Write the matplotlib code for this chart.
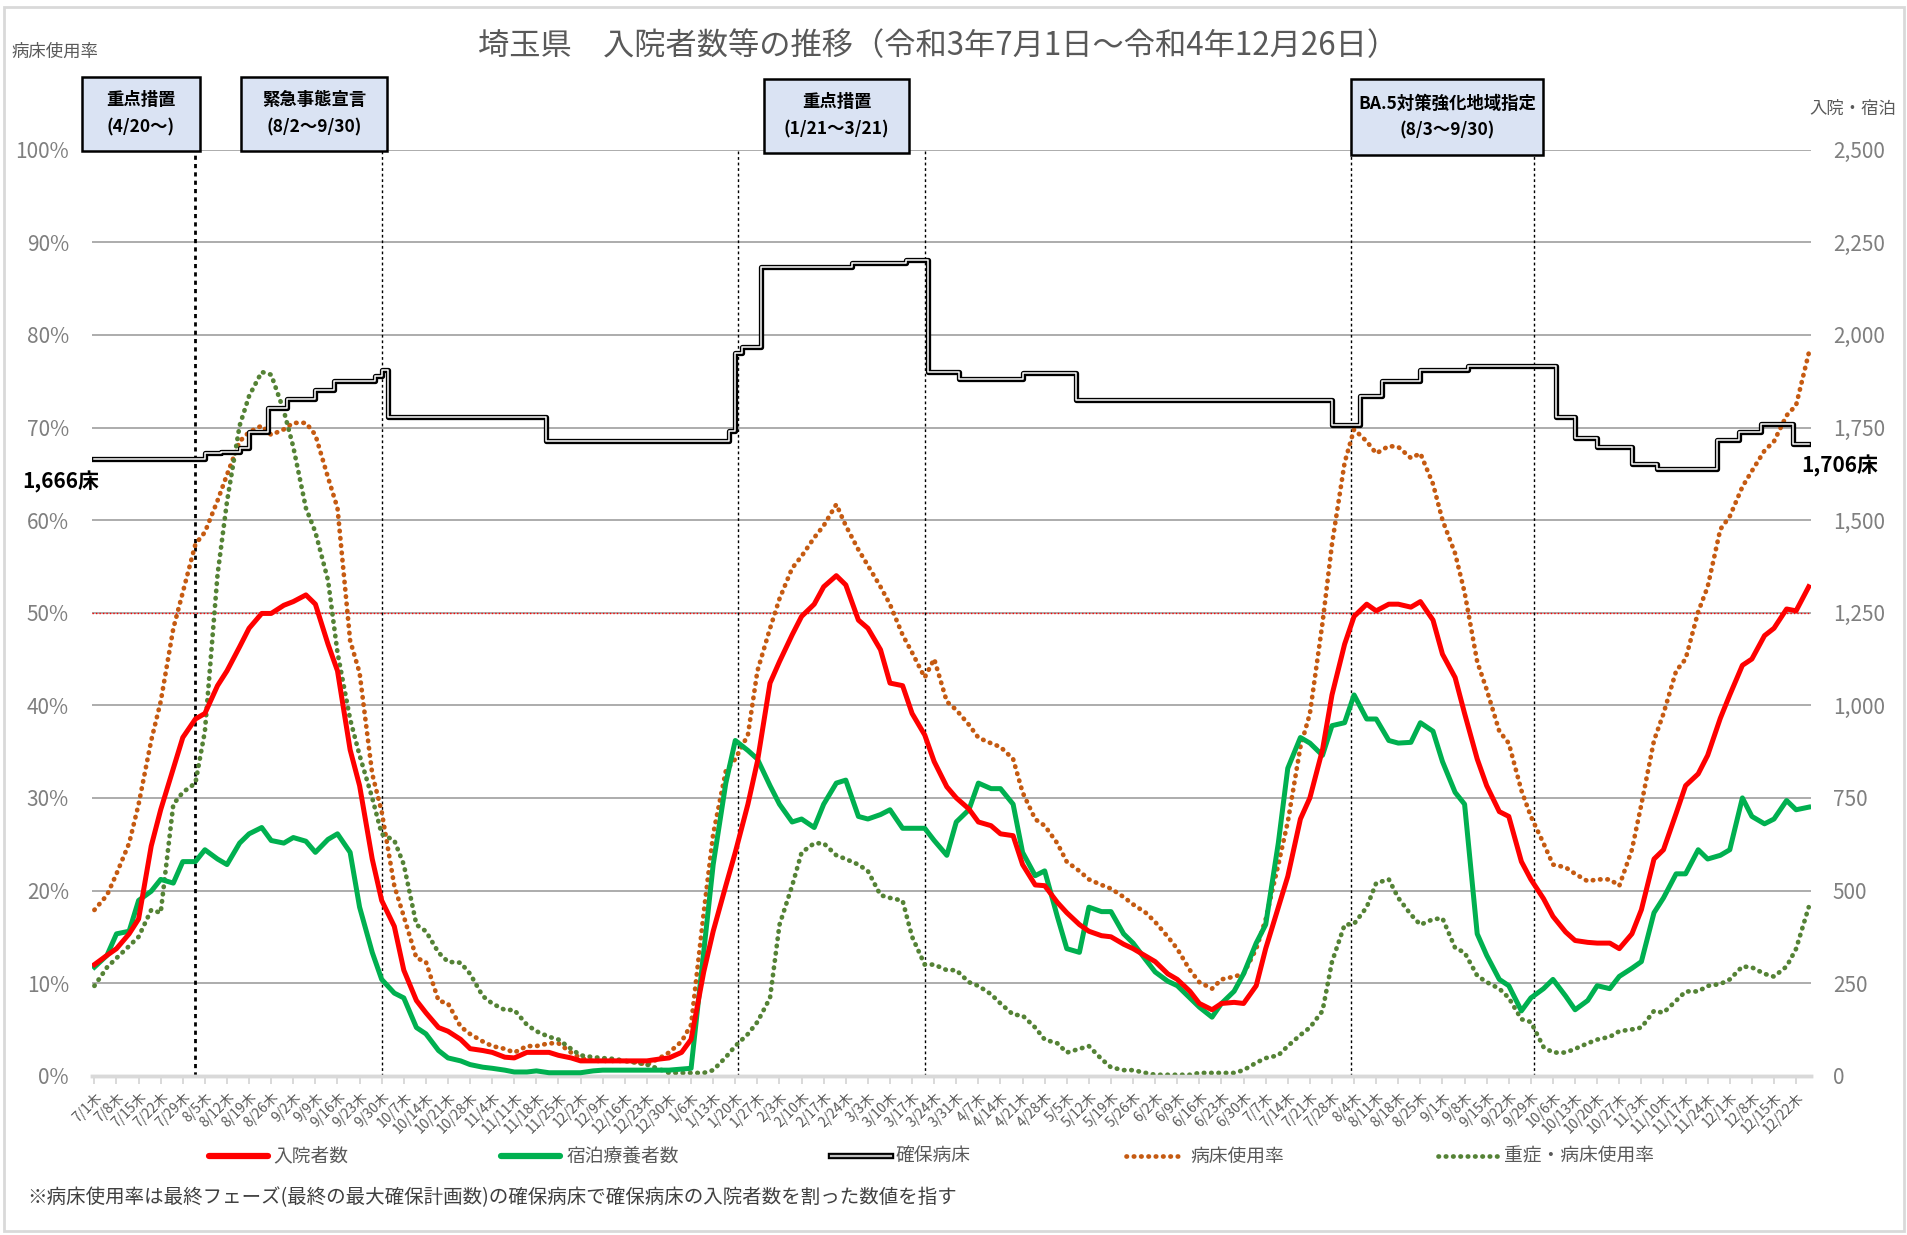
import numpy as np
import pandas as pd
import matplotlib
matplotlib.use("Agg")
import matplotlib.pyplot as plt
import matplotlib.patheffects as pe
from matplotlib.lines import Line2D
from matplotlib.patches import Rectangle

plt.rcParams['font.family'] = ['Noto Sans CJK JP', 'DejaVu Sans']

# 1) データ(図から読み取り: 木曜と月曜の値)
thursdays = pd.date_range("2021-07-01", "2022-12-22", freq="7D")
mondays = pd.date_range("2021-07-05", "2022-12-26", freq="7D")

# 入院者数 (人)
inp_thu = [300, 343, 423, 718, 913, 978, 1093, 1208, 1248, 1280, 1273, 1093, 783, 473,
           285, 170, 120, 73, 63, 48, 63, 55, 40, 40, 40, 40, 48, 98,
           390, 603, 848, 1118, 1240, 1320, 1325, 1208, 1060, 978, 848, 750,
           685, 653, 570, 513, 440, 390, 375, 343, 308, 260, 195, 195, 195,
           343, 538, 750, 1028, 1240, 1255, 1273, 1280, 1138, 978, 783, 700, 530,
           430, 365, 358, 343, 448, 610, 783, 865, 1028, 1125, 1208, 1255]
inp_mon = [325, 383, 620, 830, 963, 1053, 1158, 1248, 1270, 1298, 1165, 880, 585, 403,
           203, 130, 98, 68, 50, 63, 63, 48, 40, 40, 40, 45, 63, 280,
           513, 733, 1060, 1190, 1273, 1350, 1230, 1150, 1053, 920, 780, 720,
           675, 648, 515, 468, 408, 378, 355, 323, 275, 228, 178, 198, 243,
           455, 693, 880, 1165, 1273, 1273, 1265, 1230, 1075, 855, 713, 578, 478,
           388, 360, 358, 383, 585, 708, 815, 965, 1108, 1188, 1260, 1320]

# 宿泊療養者数 (人)
hotel_thu = [293, 383, 473, 530, 578, 610, 570, 653, 635, 643, 603, 653, 455, 260,
             210, 113, 48, 30, 20, 10, 13, 8, 8, 15, 15, 15, 15, 20,
             570, 905, 855, 733, 693, 733, 798, 693, 718, 668, 635, 685,
             790, 775, 603, 553, 343, 455, 443, 358, 280, 243, 185, 195, 275,
             408, 830, 898, 945, 1028, 963, 898, 953, 848, 733, 325, 243, 210,
             260, 178, 243, 268, 308, 480, 545, 585, 610, 700, 693, 718]
hotel_mon = [325, 390, 498, 520, 578, 585, 628, 670, 628, 633, 638, 603, 333, 223,
             130, 68, 40, 23, 15, 10, 8, 8, 13, 15, 15, 15, 18, 333,
             790, 878, 783, 685, 670, 790, 700, 705, 668, 668, 595, 718,
             775, 733, 540, 430, 333, 443, 383, 313, 255, 210, 158, 228, 358,
             628, 913, 865, 953, 963, 905, 900, 930, 765, 383, 260, 175, 235,
             215, 203, 235, 290, 440, 545, 610, 595, 750, 680, 743, 725]

# 病床使用率 (%)
bed_thu = [17.9, 21.8, 29.3, 40.4, 52.2, 58.7, 64.9, 69.5, 69.2, 70.5, 69.2, 61.3, 43.5, 28.5,
           17.2, 12.3, 7.8, 4.5, 3.2, 2.5, 3.2, 3.5, 1.9, 1.6, 1.6, 1.2, 2.5, 5.5,
           26.1, 34.2, 43.7, 51.5, 56.1, 59.4, 59.4, 55.1, 50.9, 45.7, 45.0, 39.5,
           36.5, 35.5, 30.6, 27.0, 23.1, 21.2, 20.2, 18.5, 16.6, 13.7, 10.1, 10.4, 11.0,
           16.9, 27.4, 39.1, 57.4, 69.8, 67.2, 67.9, 67.2, 60.0, 52.2, 41.7, 35.9, 28.0,
           22.8, 21.8, 21.2, 20.5, 29.3, 39.1, 45.0, 52.8, 60.4, 65.3, 68.5, 72.4]
bed_mon = [19.5, 25.1, 36.2, 48.3, 57.4, 62.1, 68.5, 70.2, 69.8, 70.5, 64.6, 47.0, 32.6, 20.5,
           12.7, 8.1, 5.3, 3.7, 2.9, 3.2, 3.5, 2.5, 1.6, 1.6, 1.4, 1.9, 3.7, 17.6,
           32.9, 36.8, 48.3, 54.8, 58.1, 61.7, 56.8, 52.8, 47.6, 43.0, 40.4, 37.9,
           35.9, 34.2, 27.7, 25.1, 22.1, 20.6, 19.3, 17.6, 15.0, 11.4, 9.4, 10.7, 13.7,
           22.8, 35.5, 48.9, 66.2, 68.5, 68.0, 66.7, 63.9, 56.4, 44.7, 37.2, 30.8, 25.1,
           22.5, 21.0, 21.2, 24.4, 36.2, 43.7, 50.1, 59.0, 63.6, 67.5, 71.3, 78.0]

# 重症・病床使用率 (%)
sev_thu = [9.7, 12.7, 15.0, 17.6, 30.6, 37.2, 62.0, 73.4, 75.7, 67.9, 58.7, 45.7, 34.6, 26.1,
           22.8, 15.6, 12.3, 11.0, 7.8, 7.1, 4.8, 3.9, 2.2, 1.9, 1.6, 1.2, 0.3, 0.3,
           0.6, 3.2, 5.8, 16.3, 24.1, 25.1, 23.4, 22.1, 19.2, 15.0, 12.0, 11.4,
           9.7, 7.8, 6.5, 3.9, 2.5, 3.2, 0.9, 0.6, 0.1, 0.1, 0.3, 0.3, 0.6,
           1.9, 3.2, 5.2, 12.3, 16.4, 20.8, 19.2, 16.3, 17.0, 13.3, 10.1, 8.4, 5.8,
           2.5, 2.9, 3.9, 4.8, 5.2, 6.8, 9.1, 9.7, 10.4, 11.7, 10.7, 13.7]
sev_mon = [11.7, 14.0, 17.9, 29.3, 31.6, 54.1, 70.2, 76.0, 71.8, 61.3, 53.5, 38.5, 30.0, 25.4,
           16.3, 13.3, 12.2, 8.6, 7.1, 5.5, 4.2, 2.9, 2.0, 1.8, 1.4, 0.7, 0.3, 0.3,
           2.0, 4.5, 8.4, 20.5, 25.1, 23.8, 22.8, 19.5, 18.9, 12.0, 11.4, 10.1,
           8.8, 6.6, 5.2, 3.5, 2.9, 1.8, 0.6, 0.3, 0.1, 0.1, 0.3, 0.3, 1.4,
           2.2, 4.4, 7.0, 16.3, 18.2, 21.2, 17.4, 16.9, 13.8, 10.8, 9.4, 6.1, 3.1,
           2.5, 3.5, 4.2, 5.0, 7.0, 8.1, 9.1, 9.9, 11.8, 11.0, 11.8, 18.2]

# 確保病床 (変更日と床数)
bed_dates = pd.to_datetime([
    "2021-07-01", "2021-08-05", "2021-08-10", "2021-08-16", "2021-08-19", "2021-08-25",
    "2021-08-31", "2021-09-09", "2021-09-15", "2021-09-28", "2021-09-30", "2021-10-02",
    "2021-11-21", "2022-01-18", "2022-01-20", "2022-01-22", "2022-01-28", "2022-02-26",
    "2022-03-15", "2022-03-22", "2022-04-01", "2022-04-21", "2022-05-08", "2022-07-28",
    "2022-08-06", "2022-08-13", "2022-08-25", "2022-09-09", "2022-10-07", "2022-10-13",
    "2022-10-20", "2022-10-31", "2022-11-08", "2022-11-27", "2022-12-04", "2022-12-11",
    "2022-12-21", "2022-12-26"])
bed_counts = [1666, 1680, 1685, 1695, 1737, 1803, 1827, 1850, 1876, 1890, 1904, 1778,
              1713, 1740, 1950, 1966, 2183, 2195, 2203, 1900, 1881, 1896, 1824, 1758,
              1835, 1876, 1904, 1917, 1778, 1721, 1697, 1652, 1639, 1716, 1737, 1759,
              1706, 1706]

# 措置期間の区切り線
period_lines = pd.to_datetime(["2021-08-02", "2021-09-30", "2022-01-21",
                               "2022-03-21", "2022-08-03", "2022-09-30"])
box_texts = [("重点措置", "(4/20～)"), ("緊急事態宣言", "(8/2～9/30)"),
             ("重点措置", "(1/21～3/21)"), ("BA.5対策強化地域指定", "(8/3～9/30)")]

week_labels = [f"{d.month}/{d.day}木" for d in thursdays]


def merge(thu, mon):
    s = pd.concat([pd.Series(thu, index=thursdays), pd.Series(mon, index=mondays)])
    return s.sort_index()


inpatients = merge(inp_thu, inp_mon)
hotel = merge(hotel_thu, hotel_mon)
bed_rate = merge(bed_thu, bed_mon)
severe_rate = merge(sev_thu, sev_mon)

# 2) 色
RED = "#FF0000"
GREEN = "#00B050"
BROWN = "#C55A11"
OLIVE = "#548235"
GRID = "#A6A6A6"
TXT = "#7F7F7F"

W, H = 1908, 1235
def fx(px):
    return px / W
def fy(py):
    return 1 - py / H

fig = plt.figure(figsize=(W / 100, H / 100), dpi=100)
ax = fig.add_axes([fx(92.5), fy(1075.7), fx(1810.6) - fx(92.5), fy(149.7) - fy(1075.7)])
ax2 = ax.twinx()

dot = (0, (0.1, 1.45))

# 左軸: 病床使用率
ax.plot(bed_rate.index, bed_rate.values, color=BROWN, lw=3.4, ls=dot, dash_capstyle='round', zorder=3)
ax.plot(severe_rate.index, severe_rate.values, color=OLIVE, lw=3.4, ls=dot, dash_capstyle='round', zorder=3)
ax.axhline(50, color=RED, lw=1.0, ls=(0, (1, 1.5)), zorder=2)
ax.axhline(0, color="#9DC3E6", lw=1.3, ls=(0, (1, 2)), zorder=4)
for i, d in enumerate(period_lines):
    ax.plot([d, d], [0, 100], color="black", lw=2.0 if i == 0 else 1.0,
            ls=(0, (1.5, 1.5)) if i == 0 else (0, (2, 2)), zorder=2)

# 右軸: 入院・宿泊・確保病床
ax2.plot(hotel.index, hotel.values, color=GREEN, lw=3.6, zorder=3, solid_joinstyle='round')
ax2.plot(inpatients.index, inpatients.values, color=RED, lw=3.6, zorder=4, solid_joinstyle='round')
ax2.step(bed_dates, bed_counts, where='post', color="white", lw=1.1, zorder=5,
         path_effects=[pe.Stroke(linewidth=3.8, foreground="black"), pe.Normal()])

ax.set_xlim(thursdays[0] - pd.Timedelta(days=0.6), mondays[-1] + pd.Timedelta(days=0.6))
ax.set_ylim(0, 100)
ax2.set_ylim(0, 2500)

ax.set_yticks(np.arange(0, 101, 10))
ax.set_yticklabels([f"{v}%" for v in range(0, 101, 10)])
ax2.set_yticks(np.arange(0, 2501, 250))
ax2.set_yticklabels([f"{v:,}" for v in range(0, 2501, 250)])
ax.yaxis.grid(True, color=GRID, lw=1.3)
ax.set_axisbelow(True)

ax.set_xticks(thursdays)
ax.set_xticklabels(week_labels, rotation=45, ha='right', rotation_mode='anchor')
ax.tick_params(axis='x', length=6, width=1.4, color="#D9D9D9", labelsize=10,
               labelcolor="#595959", pad=4)
ax.tick_params(axis='y', length=0, pad=17, labelsize=15, labelcolor=TXT)
ax2.tick_params(axis='y', length=0, pad=16, labelsize=15, labelcolor=TXT)

for a in (ax, ax2):
    for s in ("left", "right", "top"):
        a.spines[s].set_visible(False)
    a.spines["bottom"].set_color("#D9D9D9")
    a.spines["bottom"].set_linewidth(2.5)

# 3) 文字
fig.text(fx(938), fy(46), "埼玉県　入院者数等の推移（令和3年7月1日～令和4年12月26日）",
         ha='center', va='center', fontsize=22.5, color="#595959")
fig.text(fx(12), fy(52), "病床使用率", ha='left', va='center', fontsize=12.5, color="#595959")
fig.text(fx(1896), fy(109), "入院・宿泊", ha='right', va='center', fontsize=12.5, color="#595959")
fig.text(fx(22), fy(482), "1,666床", ha='left', va='center', fontsize=15, fontweight='bold')
fig.text(fx(1801), fy(466), "1,706床", ha='left', va='center', fontsize=15, fontweight='bold')

# 措置のボックス
box_px = [(82, 77, 200, 151), (241, 77, 387, 151), (764, 79, 909, 153), (1351, 79, 1543, 155)]
for (x0, y0, x1, y1), (t1, t2) in zip(box_px, box_texts):
    fig.patches.append(Rectangle((fx(x0), fy(y1)), fx(x1) - fx(x0), fy(y0) - fy(y1),
                                 transform=fig.transFigure, facecolor="#DAE3F3",
                                 edgecolor="black", lw=1.8, zorder=5))
    fig.text(fx((x0 + x1) / 2), fy((y0 + y1) / 2), f"{t1}\n{t2}", ha='center', va='center',
             fontsize=12.5, fontweight='bold', linespacing=1.65, zorder=6)

# 凡例
ly = fy(1156)
legend_px = [(209, 268, 273, "入院者数"), (501, 560, 567, "宿泊療養者数"),
             (831, 891, 896, "確保病床"), (1126, 1183, 1190, "病床使用率"),
             (1438, 1497, 1504, "重症・病床使用率")]
styles = [dict(color=RED, lw=4.5, solid_capstyle='round'),
          dict(color=GREEN, lw=4.5, solid_capstyle='round'),
          dict(color="#BFBFBF", lw=1.6,
               path_effects=[pe.Stroke(linewidth=4.6, foreground="black"), pe.Normal()]),
          dict(color=BROWN, lw=3.4, ls=dot, dash_capstyle='round'),
          dict(color=OLIVE, lw=3.4, ls=dot, dash_capstyle='round')]
for (x0, x1, xt, label), st in zip(legend_px, styles):
    fig.lines.append(Line2D([fx(x0), fx(x1)], [ly, ly], transform=fig.transFigure, **st))
    fig.text(fx(xt), ly, label, ha='left', va='center', fontsize=13.5, color="#595959")

fig.text(fx(27), fy(1198), "※病床使用率は最終フェーズ(最終の最大確保計画数)の確保病床で確保病床の入院者数を割った数値を指す",
         ha='left', va='center', fontsize=14, color="#404040")

# 枠
fig.patches.append(Rectangle((fx(4), fy(1231)), fx(1904) - fx(4), fy(7) - fy(1231),
                             transform=fig.transFigure, facecolor="none",
                             edgecolor="#D9D9D9", lw=2))

fig.savefig("out.png", dpi=100)
